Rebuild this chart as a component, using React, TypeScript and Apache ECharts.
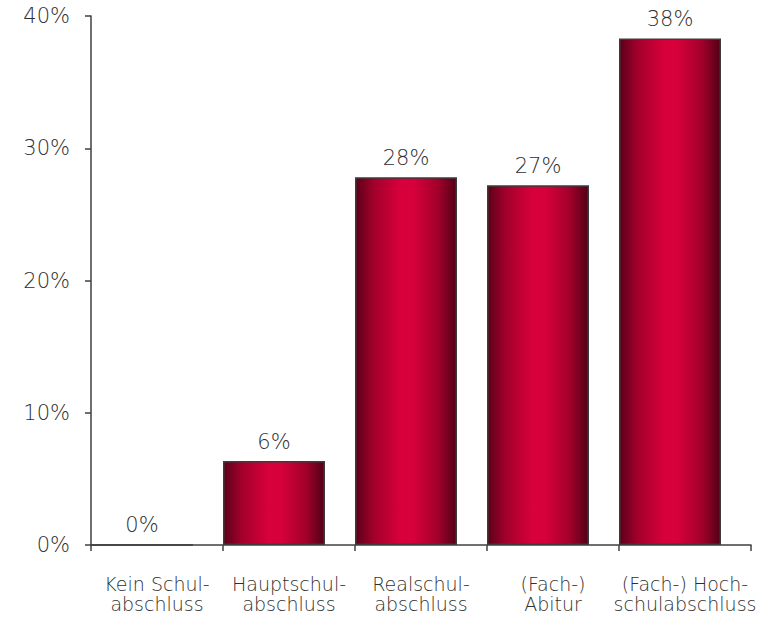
import React, { useEffect, useRef } from "react";
import * as echarts from "echarts";

// Share of each school-leaving qualification (percent)
const categories = [
  "Kein Schul-\nabschluss",
  "Hauptschul-\nabschluss",
  "Realschul-\nabschluss",
  "(Fach-)\nAbitur",
  "(Fach-) Hoch-\nschulabschluss",
];
const shares = [0, 6.35, 27.8, 27.2, 38.3];
const yTicks = { min: 0, max: 40, interval: 10 };

const TEXT = "#2f2f2f";
const FONT = "DejaVu Sans, Verdana, sans-serif";

export default function App() {
  const ref = useRef<HTMLDivElement>(null);

  useEffect(() => {
    if (!ref.current) return;
    const chart = echarts.init(ref.current, undefined, { renderer: "svg" });

    const barFill = new echarts.graphic.LinearGradient(0, 0, 1, 0, [
      { offset: 0, color: "#5c0019" },
      { offset: 0.18, color: "#a3002c" },
      { offset: 0.45, color: "#d9003b" },
      { offset: 0.58, color: "#d6003a" },
      { offset: 0.82, color: "#a1002b" },
      { offset: 1, color: "#520016" },
    ]);

    chart.setOption({
      animation: false,
      backgroundColor: "#ffffff",
      grid: { left: 91, right: 20, top: 16, bottom: 79, containLabel: false },
      xAxis: {
        type: "category",
        data: categories,
        axisLine: { show: true, lineStyle: { color: "#404040", width: 1.5 } },
        axisTick: { show: true, length: 6, lineStyle: { color: "#404040", width: 1.5 } },
        axisLabel: {
          color: TEXT,
          fontFamily: FONT,
          fontWeight: 200,
          fontSize: 19,
          lineHeight: 20,
          margin: 29,
          interval: 0,
        },
        splitLine: { show: false },
      },
      yAxis: {
        type: "value",
        min: yTicks.min,
        max: yTicks.max,
        interval: yTicks.interval,
        axisLine: { show: true, lineStyle: { color: "#404040", width: 1.5 } },
        axisTick: { show: true, length: 6, lineStyle: { color: "#404040", width: 1.5 } },
        axisLabel: {
          color: TEXT,
          fontFamily: FONT,
          fontWeight: 200,
          fontSize: 21,
          margin: 21,
          padding: [7, 0, 0, 0],
          formatter: "{value}%",
        },
        splitLine: { show: false },
      },
      series: [
        {
          type: "bar",
          data: shares,
          barWidth: 102,
          barGap: "0%",
          itemStyle: { color: barFill, borderColor: "#3c3c3c", borderWidth: 1.5 },
          label: {
            show: true,
            position: "top",
            distance: 9,
            color: TEXT,
            fontFamily: FONT,
            fontWeight: 200,
            fontSize: 21,
            formatter: (p: any) => `${Math.round(p.value)}%`,
          },
        },
        {
          // empty companion series that keeps the bars left-aligned in each slot
          type: "bar",
          data: categories.map(() => "-"),
          barWidth: 30,
          itemStyle: { color: "transparent" },
          silent: true,
        },
      ],
    });

    return () => chart.dispose();
  }, []);

  return (
    <div
      ref={ref}
      style={{ position: "fixed", left: 0, top: 0, width: 771, height: 624 }}
    />
  );
}
